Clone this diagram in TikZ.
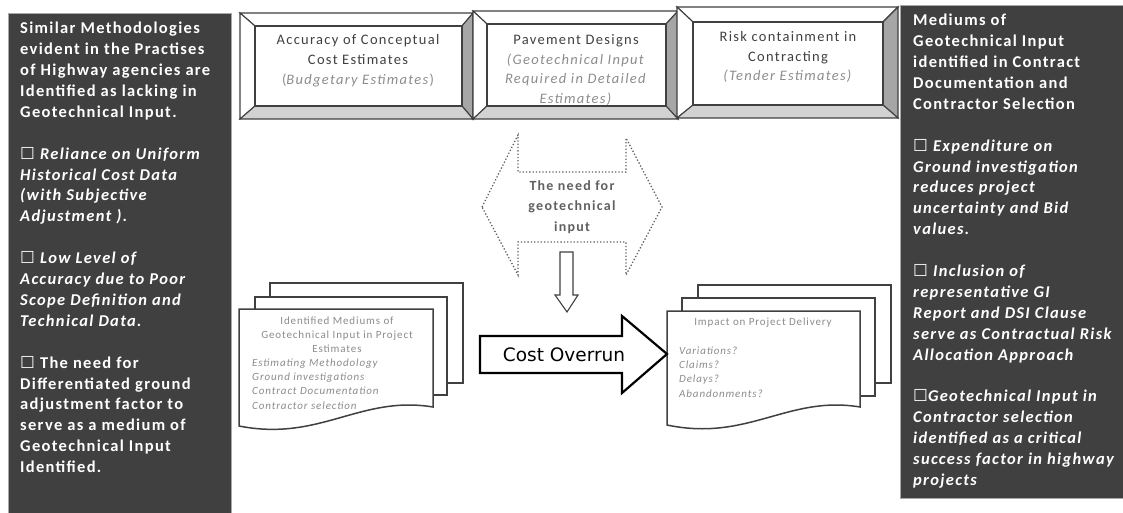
\documentclass[tikz,border=0pt]{standalone}
\usepackage{fontspec}
\setmainfont{Carlito}
\newfontfamily\panelfont{Carlito}[LetterSpace=8]
\newfontfamily\boxfont{Carlito}[LetterSpace=9]
\newfontfamily\docfont{Carlito}[LetterSpace=8]
\newfontfamily\djv{DejaVu Sans}
\newcommand\cbox{{\djv\char"2610}}
\definecolor{panel}{HTML}{404040}
\definecolor{panelrule}{HTML}{A8A8A8}
\definecolor{facedark}{HTML}{A6A6A6}
\definecolor{facelight}{HTML}{D2D2D2}
\definecolor{ink}{HTML}{404040}
\definecolor{soft}{HTML}{8C8C8C}
\definecolor{hexink}{HTML}{606060}
\newcommand\bevel[8]{%
  \filldraw[bevline,fill=white] (#1,#2) -- (#3,#2) -- (#7,#6) -- (#5,#6) -- cycle;
  \filldraw[bevline,fill=white] (#1,#2) -- (#5,#6) -- (#5,#8) -- (#1,#4) -- cycle;
  \filldraw[bevline,fill=facedark] (#3,#2) -- (#3,#4) -- (#7,#8) -- (#7,#6) -- cycle;
  \filldraw[bevline,fill=facelight] (#1,#4) -- (#3,#4) -- (#7,#8) -- (#5,#8) -- cycle;
  \draw[bevline] (#5,#6) rectangle (#7,#8);
}
\tikzset{
  bevline/.style={draw=ink,line width=1.1pt,line join=miter},
  panelbox/.style={fill=panel,draw=panelrule,line width=0.8pt},
  paneltext/.style={text=white,font=\panelfont\bfseries\fontsize{16.5}{20.9}\selectfont,align=left,inner sep=0pt,anchor=north west},
  frametext/.style={text=ink,font=\boxfont\fontsize{14.5}{19.8}\selectfont,align=center,inner sep=0pt},
  hextext/.style={text=hexink,font=\boxfont\bfseries\fontsize{14}{20.5}\selectfont,align=center,inner sep=0pt},
  doctitle/.style={text=soft,font=\docfont\fontsize{11}{14}\selectfont,align=center,inner sep=0pt},
  docitems/.style={text=soft,font=\docfont\itshape\fontsize{11}{14.2}\selectfont,align=left,inner sep=0pt,anchor=west},
  docline/.style={draw=ink,line width=1.5pt,fill=white,line join=miter},
  hexline/.style={draw=hexink,line width=1.3pt,dotted},
  hollowarrow/.style={draw=ink,line width=1.1pt,fill=white},
  bigarrow/.style={draw=black,line width=2.2pt,fill=white,line join=miter},
}
\begin{document}
\begin{tikzpicture}[x=1pt,y=-1pt]
\useasboundingbox (0,0) rectangle (1123,513);
% side panels
\path[panelbox] (8,13) rectangle (231,515);
\path[panelbox] (900,5) rectangle (1126,498);
\node[paneltext] (lefttext) at (20,22) {Similar Methodologies\\evident in the Practises\\of Highway agencies are\\Identified as lacking in\\Geotechnical Input.\\[20.9pt]
\cbox\ \textit{Reliance on Uniform}\\\textit{Historical Cost Data}\\\textit{(with Subjective}\\\textit{Adjustment ).}\\[20.9pt]
\cbox\ \textit{Low Level of}\\\textit{Accuracy due to Poor}\\\textit{Scope Definition and}\\\textit{Technical Data.}\\[20.9pt]
\cbox\ The need for\\Differentiated ground\\adjustment factor to\\serve as a medium of\\Geotechnical Input\\Identified.};
\node[paneltext] (righttext) at (913,14) {Mediums of\\Geotechnical Input\\identified in Contract\\Documentation and\\Contractor Selection\\[20.9pt]
\cbox\ \textit{Expenditure on}\\\textit{Ground investigation}\\\textit{reduces project}\\\textit{uncertainty and Bid}\\\textit{values.}\\[20.9pt]
\cbox\ \textit{Inclusion of}\\\textit{representative GI}\\\textit{Report and DSI Clause}\\\textit{serve as Contractual Risk}\\\textit{Allocation Approach}\\[20.9pt]
\cbox\textit{Geotechnical Input in}\\\textit{Contractor selection}\\\textit{identified as a critical}\\\textit{success factor in highway}\\\textit{projects}};
% bevelled frames
\bevel{240}{13}{473}{119}{255}{26}{462}{106}
\bevel{473}{11}{678}{119}{487}{24}{666}{106}
\bevel{677}{7}{898}{118}{693}{22}{883}{105}
\node[frametext] (accuracy) at (358,61) {Accuracy of Conceptual\\Cost Estimates\\{\color{soft}(\textit{Budgetary Estimates})}};
\node[frametext] (pavement) at (576,70) {Pavement Designs\\{\color{soft}\textit{(Geotechnical Input}}\\{\color{soft}\textit{Required in Detailed}}\\{\color{soft}\textit{Estimates)}}};
\node[frametext] (risk) at (788,57) {Risk containment in\\Contracting\\{\color{soft}\textit{(Tender Estimates)}}};
% dotted double arrow
\draw[hexline] (482,207) -- (518,135) -- (518,172) -- (626,172) -- (626,138) -- (662,207) -- (626,275) -- (626,242) -- (518,242) -- (518,275) -- cycle;
\node[hextext] (need) at (572,207) {The need for\\geotechnical\\input};
% small down arrow
\draw[hollowarrow] (560,252) -- (573,252) -- (573,295) -- (578,295) -- (567,312) -- (555,295) -- (560,295) -- cycle;
% left document stack
\draw[docline] (270,283) rectangle (463,383);
\draw[docline] (255,297) rectangle (447,395);
\draw[docline] (239,309) -- (433,309) -- (433,407) .. controls (360,395) and (320,442) .. (239,426) -- cycle;
\node[doctitle] (inputs) at (337,335) {Identified Mediums of\\Geotechnical Input in Project\\Estimates};
\node[docitems] (inputlist) at (252,384) {Estimating Methodology\\Ground investigations\\Contract Documentation\\Contractor selection};
% right document stack
\draw[docline] (698,285) rectangle (891,383);
\draw[docline] (682,298) rectangle (875,396);
\draw[docline] (667,311) -- (860,311) -- (860,407) .. controls (788,395) and (748,442) .. (667,425) -- cycle;
\node[doctitle] (impact) at (763,323) {Impact on Project Delivery};
\node[docitems] (impactlist) at (679,372) {Variations?\\Claims?\\Delays?\\Abandonments?};
% cost overrun arrow
\draw[bigarrow] (480,336) -- (622,336) -- (622,316) -- (667,354) -- (622,393) -- (622,373) -- (480,373) -- cycle;
\node[font=\djv\fontsize{18.5}{20}\selectfont,inner sep=0pt] (overrun) at (564,355) {Cost Overrun};
\end{tikzpicture}
\end{document}
